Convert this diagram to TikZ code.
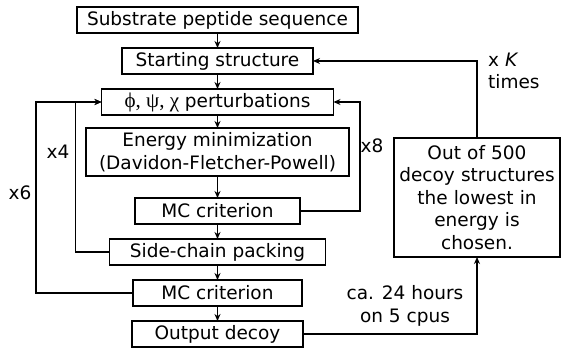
\documentclass[tikz,border=0pt]{standalone}
\usepackage{fontspec}
\setmainfont{DejaVu Sans}
\newfontfamily\greekfont{Liberation Serif}
\usetikzlibrary{%
	positioning,
	arrows.meta
}

\begin{document}
\begin{tikzpicture}[x=1pt,y=1pt,
		font=\fontsize{18.5}{22.5}\selectfont,
		SBox/.style={draw,shape=rectangle,line width=1.4pt,minimum height=26pt,inner xsep=6pt,inner ysep=2pt,outer sep=0pt,align=center},
		SLabel/.style={inner sep=0pt,align=center},
		flow/.style={line width=1.4pt,-{Stealth[length=7pt,width=6pt]}}
	]
	\useasboundingbox (0,0) rectangle (562,-350);

		%column
		\node (seq) [SBox,minimum width=281pt] at (217.5,-20) {Substrate peptide sequence};
		\node (start) [SBox,minimum width=191pt,below=15pt of seq] {Starting structure};
		\node (pert) [SBox,minimum width=232pt,below=15pt of start] {{\greekfont\fontsize{21}{22}\selectfont ϕ, ψ, χ} perturbations};
		\node (emin) [SBox,minimum width=263pt,minimum height=48pt,below=13pt of pert] {Energy minimization\\(Davidon-Fletcher-Powell)};
		\node (mc1) [SBox,minimum width=165pt,below=22pt of emin] {MC criterion};
		\node (side) [SBox,minimum width=216pt,below=15pt of mc1] {Side-chain packing};
		\node (mc2) [SBox,minimum width=169pt,below=15pt of side] {MC criterion};
		\node (out) [SBox,minimum width=171pt,below=15pt of mc2] {Output decoy};

		\draw [flow] (seq) -- (start);
		\draw [flow] (start) -- (pert);
		\draw [flow] (pert) -- (emin);
		\draw [flow] (emin) -- (mc1);
		\draw [flow] (mc1) -- (side);
		\draw [flow] (side) -- (mc2);
		\draw [flow] (mc2) -- (out);

		%loops
		\draw [flow] (mc1.east) -- ++(60,0) |- (pert.east);
		\draw [flow] (side.west) -- ++(-34,0) |- (pert.west);
		\draw [flow] (mc2.west) -- ++(-97,0) |- (pert.west);
		\node (x8) [SLabel] at (372,-146) {x8};
		\node (x4) [SLabel] at (58,-152) {x4};
		\node (x6) [SLabel] at (20,-193) {x6};

		%decoys
		\node (best) [SBox,text width=160pt,minimum height=119pt,inner xsep=3pt,anchor=north west] at (394,-138) {Out of 500\\decoy structures\\the lowest in\\energy is\\chosen.};
		\draw [flow] (out.east) -| (best.south);
		\draw [flow] (best.north) |- (start.east);
		\node (ktimes) [SLabel,align=left,anchor=west] at (488,-71) {x \textit{K}\\times};
		\node (cpus) [SLabel] at (405,-306) {ca. 24 hours\\on 5 cpus};

	\end{tikzpicture}
\end{document}
